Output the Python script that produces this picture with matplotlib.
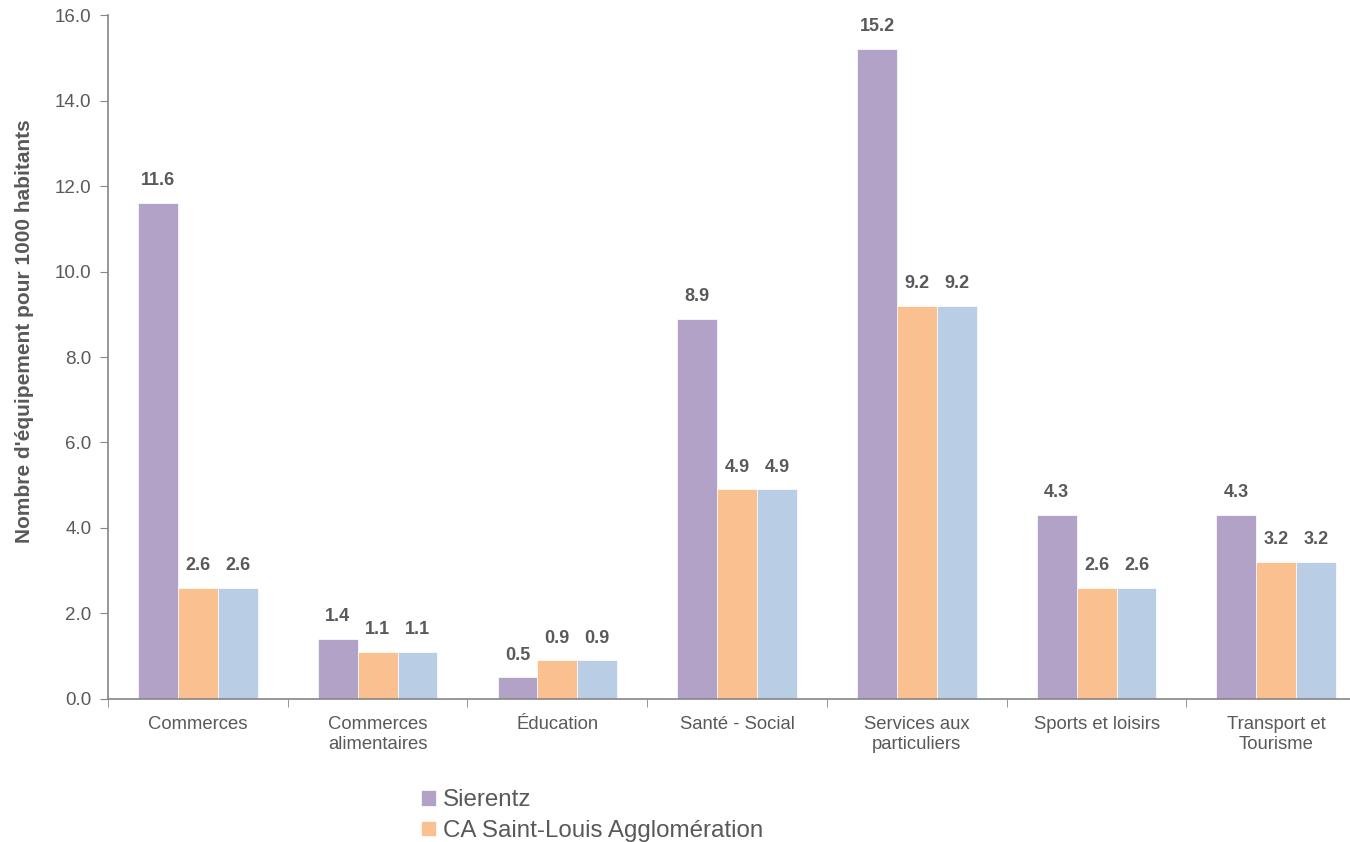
import numpy as np
from matplotlib import pyplot as plt

categories = ["Commerces", "Commerces\nalimentaires", "Éducation", "Santé - Social",
              "Services aux\nparticuliers", "Sports et loisirs", "Transport et\nTourisme"]
sierentz = [11.6, 1.4, 0.5, 8.9, 15.2, 4.3, 4.3]
ca_saint_louis = [2.6, 1.1, 0.9, 4.9, 9.2, 2.6, 3.2]
third_series = [2.6, 1.1, 0.9, 4.9, 9.2, 2.6, 3.2]

colors = ["#B3A2C7", "#FAC090", "#B9CDE5"]
gray = "#595959"

plt.rcParams['font.family'] = ['Liberation Sans', 'DejaVu Sans']

fig = plt.figure(figsize=(13.5, 8.42), dpi=100)
ax = fig.add_axes([0.08, 0.170, 0.932, 0.812])

x = np.arange(len(categories))
w = 0.222
series = [(sierentz, "Sierentz"), (ca_saint_louis, "CA Saint-Louis Agglomération"),
          (third_series, "_nolegend_")]
handles = []
for i, (vals, name) in enumerate(series):
    bars = ax.bar(x + (i - 1) * w, vals, w, color=colors[i], label=name,
                  edgecolor="white", linewidth=0.5)
    if i < 2:
        handles.append(bars)
    for xi, v in zip(x + (i - 1) * w, vals):
        ax.annotate(f"{v:.1f}", (xi, v), xytext=(0, 10), textcoords="offset points",
                    ha="center", va="bottom", fontsize=13, fontweight="bold", color=gray)

ax.set_xlim(-0.5, len(categories) - 0.5)
ax.set_ylim(0, 16)
ax.set_yticks(np.arange(0, 16.1, 2))
ax.set_yticklabels([f"{t:.1f}" for t in np.arange(0, 16.1, 2)])
ax.set_xticks(x)
ax.set_xticklabels(categories, linespacing=1.3)
ax.set_xticks(np.arange(-0.5, len(categories), 1), minor=True)
ax.tick_params(axis="x", which="major", length=0, pad=12, labelsize=13.3, labelcolor=gray)
ax.tick_params(axis="x", which="minor", length=6, direction="out", color="#868686")
ax.tick_params(axis="y", length=6, direction="out", color="#868686", labelsize=13.5,
               labelcolor=gray, pad=6)

for s in ["top", "right"]:
    ax.spines[s].set_visible(False)
for s in ["left", "bottom"]:
    ax.spines[s].set_color("#868686")
    ax.spines[s].set_linewidth(1.2)

ax.set_ylabel("Nombre d'équipement pour 1000 habitants", fontsize=15, fontweight="bold",
              color=gray, labelpad=15, y=0.538)

fig.legend(handles=handles, labels=["Sierentz", "CA Saint-Louis Agglomération"],
           loc="upper left", bbox_to_anchor=(0.305, 0.074), frameon=False,
           fontsize=17.4, labelcolor=gray, handlelength=0.6, handleheight=0.6,
           handletextpad=0.3, labelspacing=0.35, borderaxespad=0)

fig.savefig("out.png", dpi=100)
